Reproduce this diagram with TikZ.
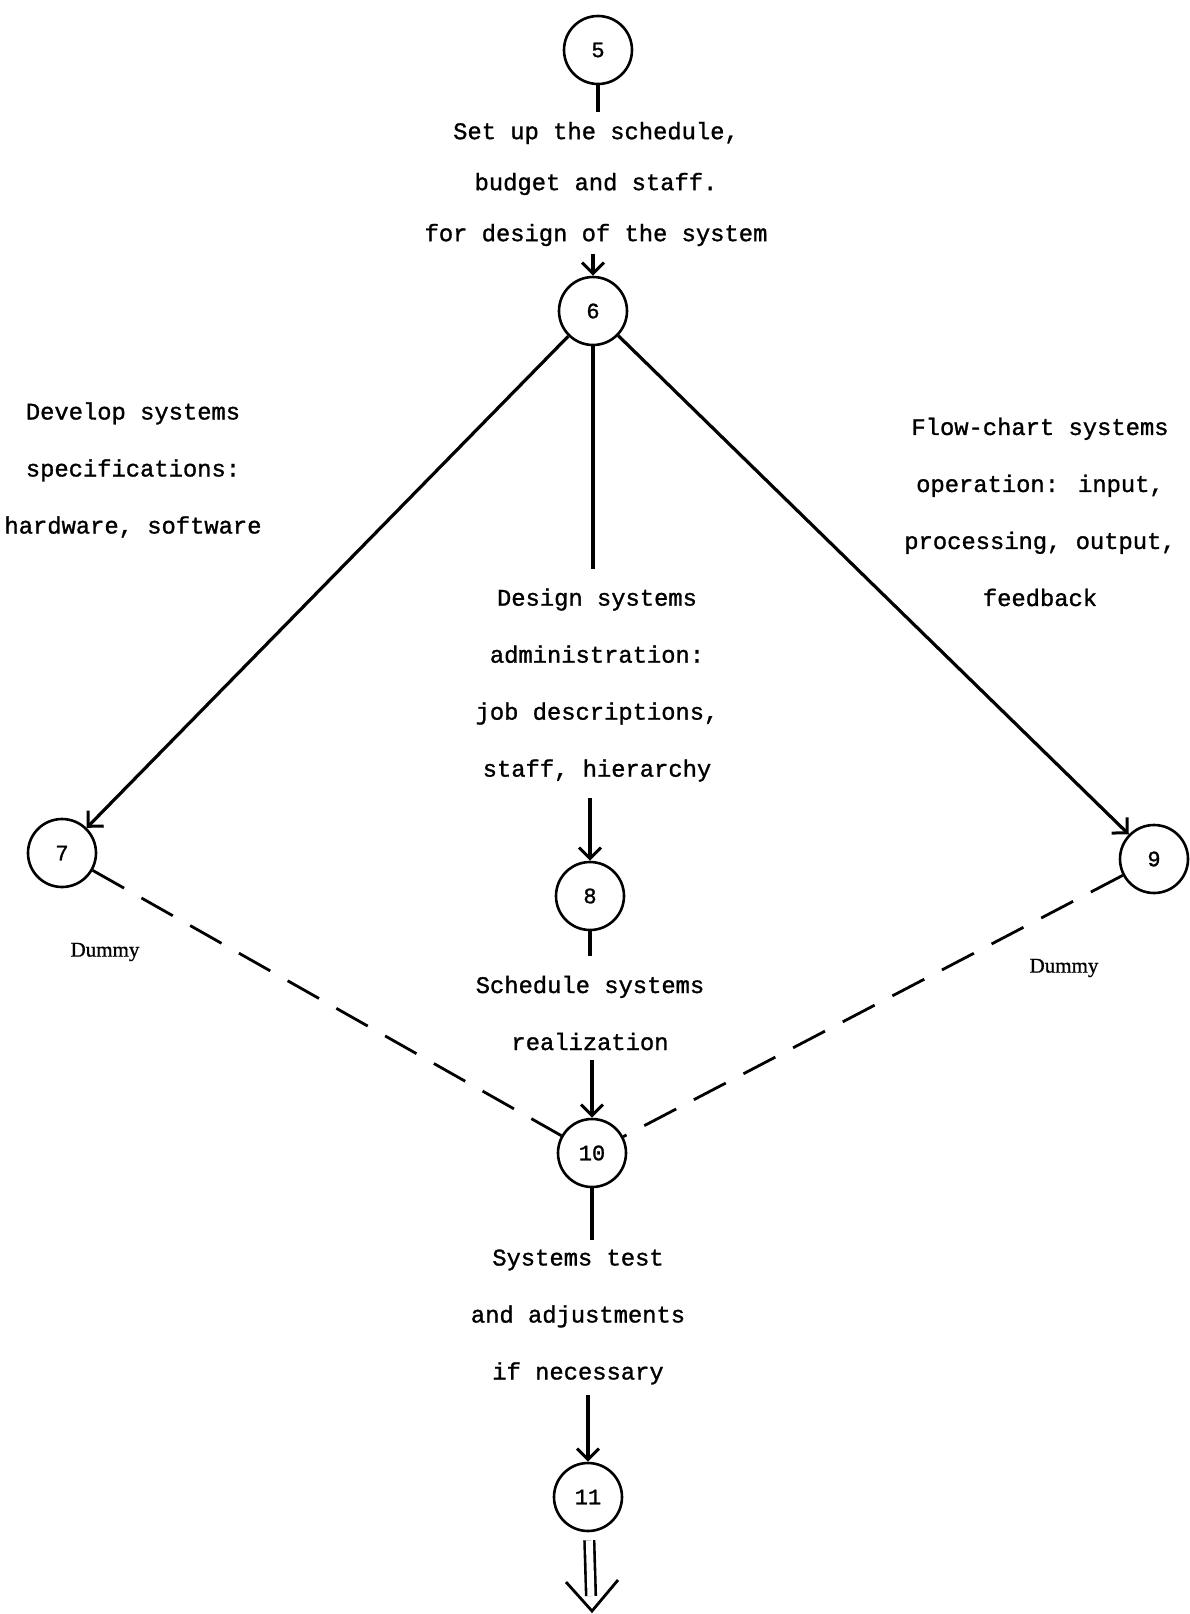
\documentclass[tikz,border=0pt]{standalone}
\usepackage{fontspec}
\newfontfamily\tw[FakeBold=1.2]{Liberation Mono}
\newfontfamily\dm[FakeBold=0.8]{Liberation Serif}
\usetikzlibrary{arrows.meta}
\begin{document}
\begin{tikzpicture}[x=1pt,y=-1pt,
  ev/.style={draw,circle,line width=2.6pt,minimum size=68pt,inner sep=0pt,font=\tw\fontsize{22}{26}\selectfont},
  act/.style={align=center,inner sep=0pt,font=\tw\fontsize{23.8}{57}\selectfont},
  dum/.style={inner sep=0pt,font=\dm\fontsize{21}{24}\selectfont},
  con/.style={line width=3.2pt},
  arr/.style={con,-{Straight Barb[length=11pt,width=22pt,line width=3pt]}},
  dsh/.style={line width=2.8pt,dash pattern=on 36pt off 20pt}]
\useasboundingbox[fill=white] (0,0) rectangle (1190,1614);
% events
\node[ev] (n5) at (598,50) {5};
\node[ev] (n6) at (593,311) {6};
\node[ev] (n7) at (62,853) {7};
\node[ev] (n8) at (590,896) {8};
\node[ev] (n9) at (1154,859) {9};
\node[ev] (n10) at (592,1153) {10};
\node[ev] (n11) at (588,1497) {11};
% activity texts
\node[act,font=\tw\fontsize{23.8}{51}\selectfont] (t56) at (596,184) {Set up the schedule,\\budget and staff.\\for design of the system};
\node[act] (t67) at (133,470) {Develop systems\\specifications:\\hardware, software};
\node[act] (t69) at (1040,512) {Flow-chart systems\\operation:  input,\\processing, output,\\feedback};
\node[act] (t68) at (597,685) {Design systems\\administration:\\job descriptions,\\staff, hierarchy};
\node[act] (t810) at (590,1013) {Schedule systems\\realization};
\node[act] (t1011) at (578,1317) {Systems test\\and adjustments\\if necessary};
\node[dum] (d7) at (105,952) {Dummy};
\node[dum] (d9) at (1064,968) {Dummy};
% coordinates for free ends
\coordinate (a5) at (598,112);
\coordinate (b6) at (593,254);
\coordinate (a6) at (593,569);
\coordinate (b8) at (590,798);
\coordinate (a8) at (590,956);
\coordinate (b10) at (592,1060);
\coordinate (a10) at (592,1240);
\coordinate (b11) at (588,1395);
\coordinate (e11) at (591,1596);
\coordinate (tip) at (592,1611);
\coordinate (vl) at (566,1582);
\coordinate (vr) at (618,1580);
% connectors
\draw[con] (n5) -- (a5);
\draw[arr] (b6) -- (n6);
\draw[arr] (n6) -- (n7);
\draw[arr] (n6) -- (n9);
\draw[con] (n6) -- (a6);
\draw[arr] (b8) -- (n8);
\draw[con] (n8) -- (a8);
\draw[arr] (b10) -- (n10);
\draw[dsh] (n7) -- (n10);
\draw[dsh] (n9) -- (n10);
\draw[con] (n10) -- (a10);
\draw[arr] (b11) -- (n11);
\draw[line width=2.6pt,double distance=7pt,shorten <=8pt] (n11) -- (e11);
\draw[line width=2.8pt] (vl) -- (tip) -- (vr);
\end{tikzpicture}
\end{document}
